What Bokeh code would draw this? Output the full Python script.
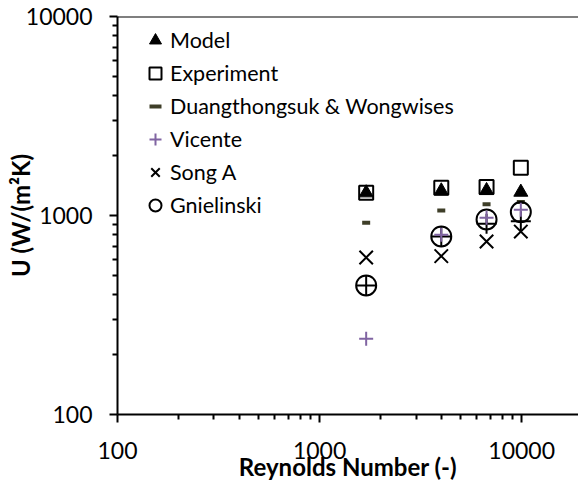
from bokeh.plotting import figure
from bokeh.models import ColumnDataSource, Legend, LegendItem, Span, FixedTicker
from bokeh.embed import file_html
from bokeh.resources import INLINE

# Reynolds numbers of the four test points
reynolds = [1700, 4000, 6700, 9900]

# Overall heat transfer coefficient U, W/(m2K)
u_model = [1300, 1330, 1335, 1310]
u_experiment = [1300, 1380, 1390, 1740]
u_duangthongsuk = [920, 1060, 1140, 1170]
u_vicente = [240, 800, 975, 1070]
u_song_a = [615, 625, 740, 830]
u_gnielinski = [445, 785, 955, 1040]
u_extra = [445, 785, 910, 935]

# decade ticks and the 2..9 minor ticks between them
major_ticks = [100, 1000, 10000]
minor_ticks = [m * 10 ** k for k in (2, 3, 4) for m in range(2, 10)]

FONT = "Lato"
PURPLE = "#8064A2"

src = ColumnDataSource(dict(
    re=reynolds, model=u_model, exp=u_experiment, duang=u_duangthongsuk,
    vic=u_vicente, song=u_song_a, gni=u_gnielinski, extra=u_extra,
))

p = figure(width=578, height=488, x_axis_type="log", y_axis_type="log",
           x_range=(100, 19100), y_range=(100, 10000),
           output_backend="svg", toolbar_location=None,
           min_border_left=117, min_border_right=0, min_border_top=16,
           min_border_bottom=74)
p.outline_line_color = None
p.xgrid.visible = False
p.ygrid.visible = False
p.background_fill_color = "white"
p.border_fill_color = "white"

# top border of the plot area
p.add_layout(Span(location=10000, dimension="width", line_color="black",
                  line_width=2))

r_exp = p.scatter("re", "exp", source=src, marker="square", size=14,
                  fill_color=None, line_color="black", line_width=2)
r_model = p.scatter("re", "model", source=src, marker="triangle", size=14,
                    fill_color="black", line_color="black", line_width=1)
r_duang = p.scatter("re", "duang", source=src, marker="dash", size=8,
                    line_color="#3e3e28", line_width=4)
r_gni = p.scatter("re", "gni", source=src, marker="circle", size=20,
                  fill_color=None, line_color="black", line_width=2)
p.scatter("re", "extra", source=src, marker="cross", size=20,
          line_color="black", line_width=2)
r_vic = p.scatter("re", "vic", source=src, marker="cross", size=14,
                  line_color=PURPLE, line_width=2)
r_song = p.scatter("re", "song", source=src, marker="x", size=19,
                   line_color="black", line_width=2)

for ax in (p.xaxis[0], p.yaxis[0]):
    ax.ticker = FixedTicker(ticks=major_ticks, minor_ticks=minor_ticks)
    ax.axis_line_width = 2
    ax.axis_line_color = "black"
    ax.major_tick_line_width = 2
    ax.minor_tick_line_width = 2
    ax.major_tick_line_color = "black"
    ax.minor_tick_line_color = "black"
    ax.major_tick_in = 0
    ax.major_tick_out = 8
    ax.minor_tick_in = 0
    ax.minor_tick_out = 5
    ax.major_label_text_font = FONT
    ax.major_label_text_font_size = "23px"
    ax.major_label_text_color = "black"
    ax.major_label_overrides = {t: str(t) for t in major_ticks}
    ax.axis_label_text_font = FONT
    ax.axis_label_text_font_size = "24px"
    ax.axis_label_text_font_style = "bold"
    ax.axis_label_text_color = "black"

p.xaxis.major_label_standoff = 19
p.yaxis.major_label_standoff = 17
p.xaxis.axis_label = "Reynolds Number (-)"
p.xaxis.axis_label_standoff = -10
p.yaxis.axis_label = "U (W/(m²K)"
p.yaxis.axis_label_standoff = -12

legend = Legend(items=[
    LegendItem(label="Model", renderers=[r_model]),
    LegendItem(label="Experiment", renderers=[r_exp]),
    LegendItem(label="Duangthongsuk & Wongwises", renderers=[r_duang]),
    LegendItem(label="Vicente", renderers=[r_vic]),
    LegendItem(label="Song A", renderers=[r_song]),
    LegendItem(label="Gnielinski", renderers=[r_gni]),
], location=(23, 194))
legend.label_text_font = FONT
legend.label_text_font_size = "21.5px"
legend.label_text_color = "black"
legend.glyph_width = 30
legend.glyph_height = 30
legend.label_height = 30
legend.spacing = 3
legend.label_standoff = 0
legend.padding = 0
legend.margin = 0
legend.border_line_color = None
legend.background_fill_alpha = 0
p.add_layout(legend)

open("out.html", "w").write(file_html(p, INLINE))
